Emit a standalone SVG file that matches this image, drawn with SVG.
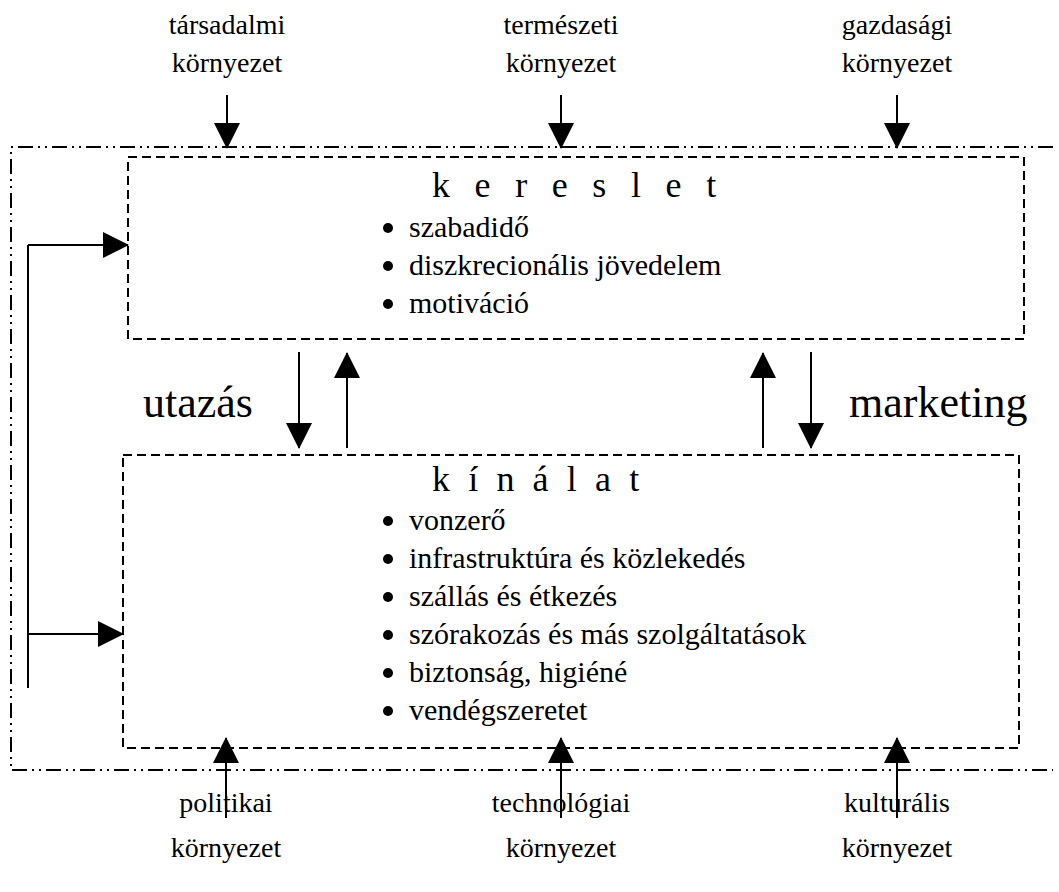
<svg xmlns="http://www.w3.org/2000/svg" width="1059" height="892" viewBox="0 0 1059 892">
  <style>
    text { font-family: "Liberation Serif", "Times New Roman", serif; fill: #000; }
    .env { font-size: 28px; text-anchor: middle; }
    .title { font-size: 36px; }
    .item { font-size: 30px; }
    .flow { font-size: 44px; }
    .box { fill: none; stroke: #000; stroke-width: 2; stroke-dasharray: 9 5; }
    .frame { fill: none; stroke: #000; stroke-width: 2; stroke-dasharray: 15 5 2 5 2 5; }
    .arrow { fill: none; stroke: #000; stroke-width: 2; marker-end: url(#head); }
    .plain { fill: none; stroke: #000; stroke-width: 2; }
  </style>
  <defs>
    <marker id="head" markerUnits="userSpaceOnUse" markerWidth="26" markerHeight="26" viewBox="0 0 26 26" refX="25" refY="13" orient="auto">
      <path d="M0,0 L26,13 L0,26 Z" fill="#000"/>
    </marker>
  </defs>

  <rect width="1059" height="892" fill="#fff"/>

  <!-- environment frame (open on the right) -->
  <g id="frame">
    <path class="frame" d="M1053,147 H11 V770 H1053"/>
  </g>

  <!-- demand box -->
  <g id="kereslet">
    <rect class="box" x="128" y="157" width="896" height="182"/>
    <text class="title" x="432" y="197" letter-spacing="7.8">k e r e s l e t</text>
    <circle cx="388" cy="228" r="5"/>
    <text class="item" x="409" y="237">szabadidő</text>
    <circle cx="388" cy="266" r="5"/>
    <text class="item" x="409" y="275">diszkrecionális jövedelem</text>
    <circle cx="388" cy="304" r="5"/>
    <text class="item" x="409" y="313">motiváció</text>
  </g>

  <!-- supply box -->
  <g id="kinalat">
    <rect class="box" x="123" y="455" width="896" height="293"/>
    <text class="title" x="432" y="491" letter-spacing="4.6">k í n á l a t</text>
    <circle cx="388" cy="521" r="5"/>
    <text class="item" x="409" y="530">vonzerő</text>
    <circle cx="388" cy="559" r="5"/>
    <text class="item" x="409" y="568">infrastruktúra és közlekedés</text>
    <circle cx="388" cy="597" r="5"/>
    <text class="item" x="409" y="606">szállás és étkezés</text>
    <circle cx="388" cy="635" r="5"/>
    <text class="item" x="409" y="644">szórakozás és más szolgáltatások</text>
    <circle cx="388" cy="673" r="5"/>
    <text class="item" x="409" y="682">biztonság, higiéné</text>
    <circle cx="388" cy="711" r="5"/>
    <text class="item" x="409" y="720">vendégszeretet</text>
  </g>

  <!-- environment labels -->
  <g id="env-tarsadalmi"><text class="env" x="227" y="34">társadalmi</text><text class="env" x="227" y="72">környezet</text></g>
  <g id="env-termeszeti"><text class="env" x="561" y="34">természeti</text><text class="env" x="561" y="72">környezet</text></g>
  <g id="env-gazdasagi"><text class="env" x="897" y="34">gazdasági</text><text class="env" x="897" y="72">környezet</text></g>
  <g id="env-politikai"><text class="env" x="226" y="812">politikai</text><text class="env" x="226" y="857">környezet</text></g>
  <g id="env-technologiai"><text class="env" x="561" y="812">technológiai</text><text class="env" x="561" y="857">környezet</text></g>
  <g id="env-kulturalis"><text class="env" x="897" y="812">kulturális</text><text class="env" x="897" y="857">környezet</text></g>

  <!-- flow labels -->
  <g id="utazas"><text class="flow" x="143" y="417">utazás</text></g>
  <g id="marketing"><text class="flow" x="849" y="417">marketing</text></g>

  <!-- connectors -->
  <g id="connectors">
    <line class="arrow" x1="227" y1="95" x2="227" y2="148"/>
    <line class="arrow" x1="561" y1="95" x2="561" y2="148"/>
    <line class="arrow" x1="897" y1="95" x2="897" y2="148"/>

    <line class="arrow" x1="226" y1="818" x2="226" y2="738"/>
    <line class="arrow" x1="561" y1="818" x2="561" y2="738"/>
    <line class="arrow" x1="897" y1="818" x2="897" y2="738"/>

    <line class="arrow" x1="299" y1="352" x2="299" y2="448"/>
    <line class="arrow" x1="347" y1="448" x2="347" y2="353"/>
    <line class="arrow" x1="763" y1="448" x2="763" y2="353"/>
    <line class="arrow" x1="811" y1="352" x2="811" y2="448"/>

    <line class="plain" x1="28" y1="245" x2="28" y2="688"/>
    <line class="arrow" x1="28" y1="245" x2="128" y2="245"/>
    <line class="arrow" x1="28" y1="634" x2="123" y2="634"/>
  </g>
</svg>
